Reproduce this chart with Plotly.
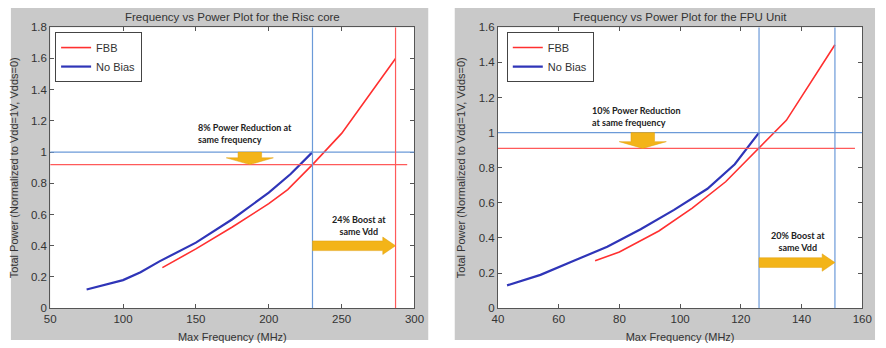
import plotly.graph_objects as go

# ---------------- data ----------------
risc_nobias_f = [75, 100, 112, 125, 150, 175, 200, 215, 230]
risc_nobias_p = [0.12, 0.18, 0.23, 0.30, 0.42, 0.57, 0.74, 0.86, 1.00]
risc_fbb_f = [127, 150, 175, 200, 213, 230, 250, 287]
risc_fbb_p = [0.26, 0.38, 0.52, 0.67, 0.76, 0.92, 1.12, 1.60]
risc_ref_f, risc_boost_f = 230, 287
risc_ref_p, risc_red_p = 1.0, 0.92

fpu_nobias_f = [43, 54, 65, 76, 87, 98, 109, 118, 126]
fpu_nobias_p = [0.13, 0.19, 0.27, 0.35, 0.45, 0.56, 0.68, 0.82, 1.00]
fpu_fbb_f = [72, 80, 93, 104, 115, 126, 135, 151]
fpu_fbb_p = [0.27, 0.32, 0.44, 0.57, 0.72, 0.91, 1.07, 1.50]
fpu_ref_f, fpu_boost_f = 126, 151
fpu_ref_p, fpu_red_p = 1.0, 0.91

titles = ["Frequency vs Power Plot for the Risc core", "Frequency vs Power Plot for the FPU Unit"]
xlabel = "Max Frequency (MHz)"
ylabel = "Total Power (Normalized to Vdd=1V, Vdds=0)"

# ---------------- layout geometry ----------------
W, H = 886, 348
def px(x): return x / W
def py(y): return 1 - y / H

RED = "#ff3030"
BLUE = "#2f35b8"
LBLUE = "#6b9ad8"
LRED = "#ff5a5a"
GOLD = "#f3b418"
GRAY = "#c9c9c9"
TXT = "#333333"

fig = go.Figure()

panels = [
    dict(xa="x", ya="y", xdom=[px(45), px(416)], xr=[50, 300], yr=[0, 1.8], dy=0.2,
         dx=50, xd=5, x1=430, nb=(risc_nobias_f, risc_nobias_p), fb=(risc_fbb_f, risc_fbb_p),
         ref_f=risc_ref_f, boost_f=risc_boost_f, ref_p=risc_ref_p, red_p=risc_red_p,
         legend="legend", lx=50, down_x=187, boost_y=0.40,
         t1="8% Power Reduction at<br>same frequency", t1x=193, t1y=132, t1align="left",
         t2="24% Boost at<br>same Vdd", t2x=360, t2y=227),
    dict(xa="x2", ya="y2", xdom=[px(501), px(872)], xr=[40, 160], yr=[0, 1.6], dy=0.2,
         dx=20, xd=457, x1=885, nb=(fpu_nobias_f, fpu_nobias_p), fb=(fpu_fbb_f, fpu_fbb_p),
         ref_f=fpu_ref_f, boost_f=fpu_boost_f, ref_p=fpu_ref_p, red_p=fpu_red_p,
         legend="legend2", lx=510, down_x=87.7, boost_y=0.26,
         t1="10% Power Reduction<br>at same frequency", t1x=595, t1y=114, t1align="left",
         t2="20% Boost at<br>same Vdd", t2x=807, t2y=244),
]

ydom = [py(313), py(22)]
shapes = []
annotations = []
layout_axes = {}

for i, p in enumerate(panels):
    n = "" if i == 0 else "2"
    # gray background panel + white plot area
    shapes.append(dict(type="rect", xref="paper", yref="paper", x0=px(p["xd"]), x1=px(p["x1"]),
                       y0=py(346), y1=py(2), fillcolor=GRAY, line=dict(width=0), layer="below"))
    shapes.append(dict(type="rect", xref="paper", yref="paper", x0=p["xdom"][0], x1=p["xdom"][1],
                       y0=ydom[0], y1=ydom[1], fillcolor="white", line=dict(width=0), layer="below"))
    # reference lines
    shapes.append(dict(type="line", xref=p["xa"], yref=p["ya"], x0=p["xr"][0], x1=p["xr"][1],
                       y0=p["ref_p"], y1=p["ref_p"], line=dict(color=LBLUE, width=1.2)))
    shapes.append(dict(type="line", xref=p["xa"], yref=p["ya"], x0=p["xr"][0], x1=p["xr"][1] - (p["xr"][1]-p["xr"][0])*0.02,
                       y0=p["red_p"], y1=p["red_p"], line=dict(color=LRED, width=1.2)))
    shapes.append(dict(type="line", xref=p["xa"], yref=p["ya"], x0=p["ref_f"], x1=p["ref_f"],
                       y0=p["yr"][0], y1=p["yr"][1], line=dict(color=LBLUE, width=1.2)))
    shapes.append(dict(type="line", xref=p["xa"], yref=p["ya"], x0=p["boost_f"], x1=p["boost_f"],
                       y0=p["yr"][0], y1=p["yr"][1],
                       line=dict(color=(LRED if i == 0 else LBLUE), width=1.2)))

    # scales (px per unit)
    sx = 371 / (p["xr"][1] - p["xr"][0])
    sy = 291 / (p["yr"][1] - p["yr"][0])
    # down arrow (block), from ref_p to red_p
    cx = p["down_x"]; yt = p["red_p"]; yb = p["ref_p"]
    hw, sw = 24 / sx, 12 / sx
    hh = 7 / sy
    path = (f"M {cx},{yt} L {cx-hw},{yt+hh} L {cx-sw},{yt+hh} L {cx-sw},{yb} "
            f"L {cx+sw},{yb} L {cx+sw},{yt+hh} L {cx+hw},{yt+hh} Z")
    shapes.append(dict(type="path", xref=p["xa"], yref=p["ya"], path=path,
                       fillcolor=GOLD, line=dict(color="#e0a010", width=0.5)))
    # right arrow (block), from ref_f to boost_f
    y0 = p["boost_y"]; x0 = p["ref_f"]; xt = p["boost_f"]
    hl = 13 / sx
    th, hh2 = 5 / sy, 9 / sy
    path = (f"M {x0},{y0-th} L {xt-hl},{y0-th} L {xt-hl},{y0-hh2} L {xt},{y0} "
            f"L {xt-hl},{y0+hh2} L {xt-hl},{y0+th} L {x0},{y0+th} Z")
    shapes.append(dict(type="path", xref=p["xa"], yref=p["ya"], path=path,
                       fillcolor=GOLD, line=dict(color="#e0a010", width=0.5)))

    # traces
    fig.add_trace(go.Scatter(x=p["fb"][0], y=p["fb"][1], mode="lines", name="FBB",
                             line=dict(color=RED, width=1.6), xaxis=p["xa"], yaxis=p["ya"],
                             legend=p["legend"]))
    fig.add_trace(go.Scatter(x=p["nb"][0], y=p["nb"][1], mode="lines", name="No Bias",
                             line=dict(color=BLUE, width=2.2), xaxis=p["xa"], yaxis=p["ya"],
                             legend=p["legend"]))

    axcommon = dict(showgrid=False, zeroline=False, ticks="inside", ticklen=4, tickcolor="#555",
                    showline=True, linecolor="#555", linewidth=1, mirror="ticks",
                    tickfont=dict(family="Arial", size=11.5, color=TXT))
    layout_axes["xaxis" + n] = dict(axcommon, domain=p["xdom"], range=p["xr"], dtick=p["dx"],
                                    tick0=p["xr"][0], anchor="y" + n,
                                    title=dict(text=xlabel, font=dict(family="Arial", size=11, color=TXT), standoff=9))
    layout_axes["yaxis" + n] = dict(axcommon, domain=ydom, range=p["yr"], dtick=p["dy"],
                                    tick0=0, anchor="x" + n,
                                    title=dict(text=ylabel, font=dict(family="Arial", size=11, color=TXT), standoff=10))

    # title
    annotations.append(dict(text=titles[i], xref="paper", yref="paper",
                            x=(p["xdom"][0] + p["xdom"][1]) / 2, y=py(11), showarrow=False,
                            font=dict(family="Arial", size=11.5, color=TXT), xanchor="center", yanchor="middle"))
    # annotation texts
    annotations.append(dict(text=p["t1"], xref="paper", yref="paper", x=px(p["t1x"]), y=py(p["t1y"]),
                            showarrow=False, align="left", xanchor="left", yanchor="middle",
                            font=dict(family="Lato", size=9, color="#222", weight="bold")))
    annotations.append(dict(text=p["t2"], xref="paper", yref="paper", x=px(p["t2x"]), y=py(p["t2y"]),
                            showarrow=False, align="center", xanchor="center", yanchor="middle",
                            font=dict(family="Lato", size=9, color="#222", weight="bold")))

legend_common = dict(bgcolor="white", bordercolor="#444", borderwidth=1,
                     font=dict(family="Arial", size=11, color=TXT), xanchor="left", yanchor="top",
                     tracegroupgap=0, itemwidth=30)
fig.update_layout(
    width=W, height=H, margin=dict(l=0, r=0, t=0, b=0),
    paper_bgcolor="white", plot_bgcolor="white",
    shapes=shapes, annotations=annotations,
    legend=dict(legend_common, x=px(50), y=py(27)),
    legend2=dict(legend_common, x=px(510), y=py(27)),
    **layout_axes,
)
fig.write_html("out.html")
